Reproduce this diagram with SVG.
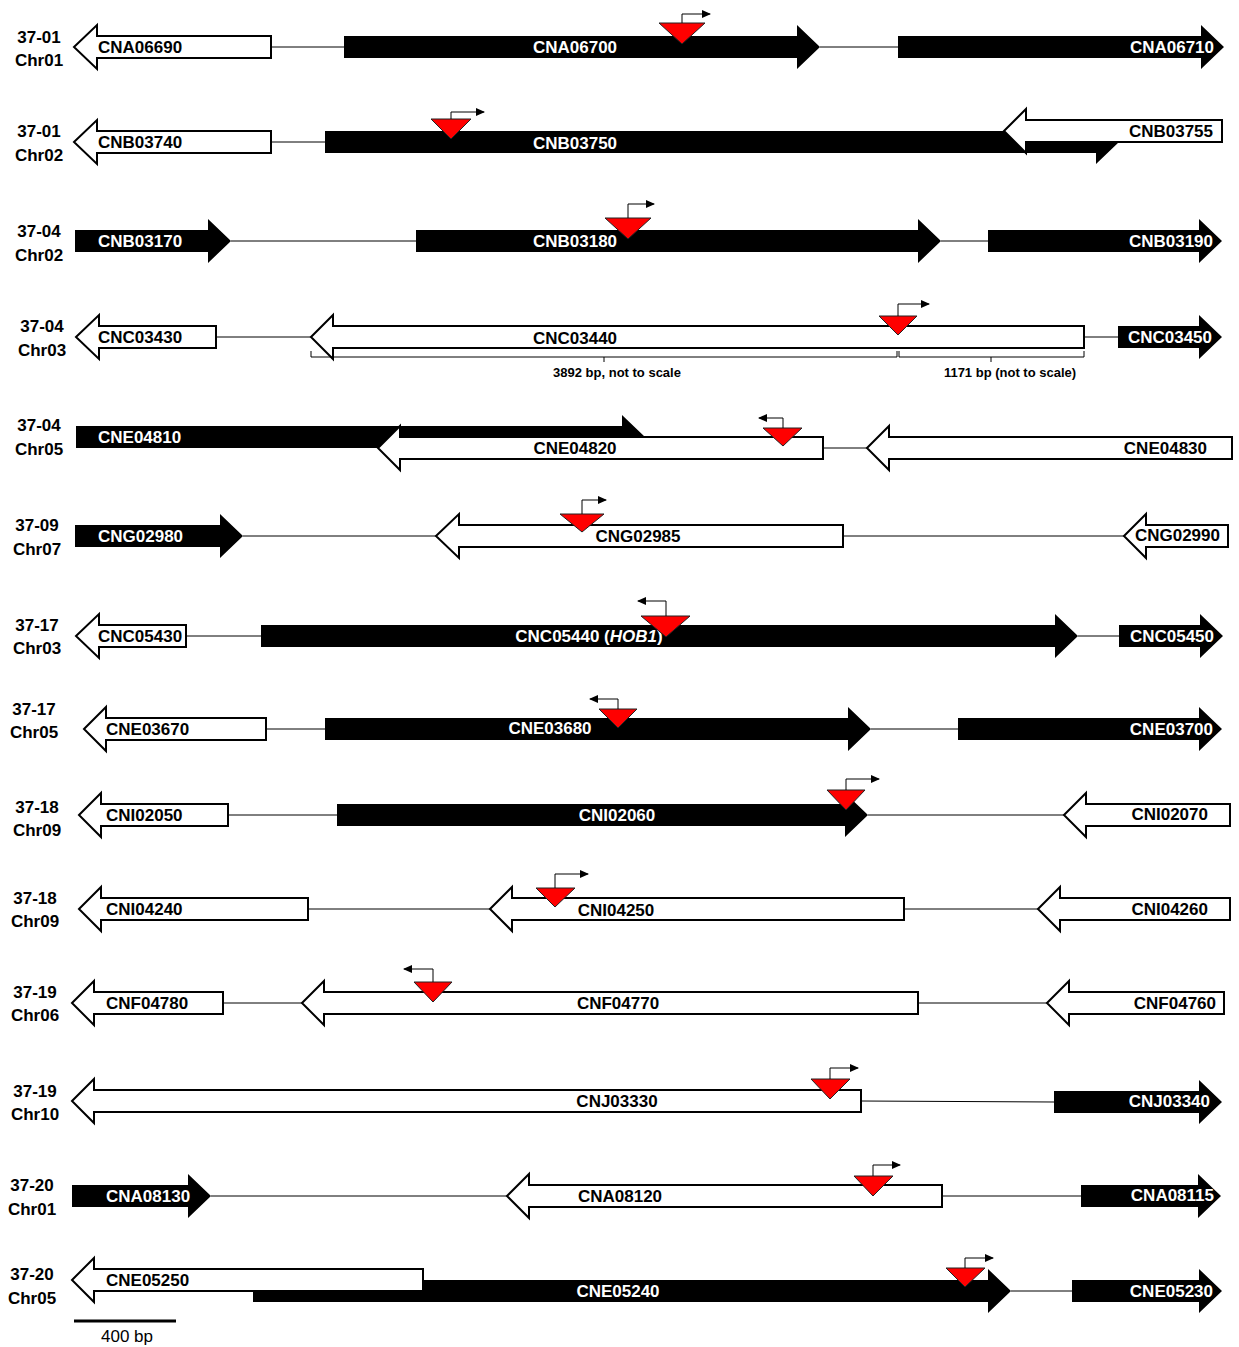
<svg xmlns="http://www.w3.org/2000/svg" width="1239" height="1347" viewBox="0 0 1239 1347">
<defs>
<style>
.w{fill:#fff;stroke:#000;stroke-width:2;stroke-linejoin:miter}
.b{fill:#000;stroke:none}
.t{fill:#ff0000;stroke:#222;stroke-width:1}
.p{fill:none;stroke:#000;stroke-width:1;marker-end:url(#ah)}
.ln{stroke:#000;stroke-width:1;fill:none}
.br{stroke:#000;stroke-width:1;fill:none}
text{font-family:"Liberation Sans",Arial,sans-serif;font-weight:bold}
.g{font-size:17px;fill:#000}
.gw{font-size:17px;fill:#fff}
.rl{font-size:17px;fill:#000;text-anchor:middle}
.m{text-anchor:middle}
.e{text-anchor:end}
.bl{font-size:13px;fill:#000;text-anchor:middle}
.sc{font-size:17px;font-weight:normal;fill:#000;text-anchor:middle}
</style>
<marker id="ah" markerWidth="9" markerHeight="8" refX="8" refY="4" orient="auto" markerUnits="userSpaceOnUse">
<path d="M0,0 L9,4 L0,8 Z" fill="#000"/>
</marker>
</defs>
<rect width="1239" height="1347" fill="#fff"/>

<g id="connectors">
<path class="ln" d="M271 47H344M820 47H898"/>
<path class="ln" d="M271 142H325"/>
<path class="ln" d="M231 241H416M941 241H988"/>
<path class="ln" d="M216 337H311M1084 337H1118"/>
<path class="ln" d="M823 448H867"/>
<path class="ln" d="M243 536H436M843 536H1124"/>
<path class="ln" d="M186 636H261M1078 636H1119"/>
<path class="ln" d="M266 729H325M871 729H958"/>
<path class="ln" d="M228 815H337M868 815H1064"/>
<path class="ln" d="M308 909H490M904 909H1038"/>
<path class="ln" d="M223 1003H302M918 1003H1047"/>
<path class="ln" d="M861 1101L1054 1102"/>
<path class="ln" d="M211 1196H507M942 1196H1081"/>
<path class="ln" d="M1011 1291H1072"/>
</g>

<g id="row-labels">
<text class="rl" x="39" y="43">37-01</text><text class="rl" x="39" y="66">Chr01</text>
<text class="rl" x="39" y="137">37-01</text><text class="rl" x="39" y="161">Chr02</text>
<text class="rl" x="39" y="237">37-04</text><text class="rl" x="39" y="261">Chr02</text>
<text class="rl" x="42" y="332">37-04</text><text class="rl" x="42" y="356">Chr03</text>
<text class="rl" x="39" y="431">37-04</text><text class="rl" x="39" y="455">Chr05</text>
<text class="rl" x="37" y="531">37-09</text><text class="rl" x="37" y="555">Chr07</text>
<text class="rl" x="37" y="631">37-17</text><text class="rl" x="37" y="654">Chr03</text>
<text class="rl" x="34" y="715">37-17</text><text class="rl" x="34" y="738">Chr05</text>
<text class="rl" x="37" y="813">37-18</text><text class="rl" x="37" y="836">Chr09</text>
<text class="rl" x="35" y="904">37-18</text><text class="rl" x="35" y="927">Chr09</text>
<text class="rl" x="35" y="998">37-19</text><text class="rl" x="35" y="1021">Chr06</text>
<text class="rl" x="35" y="1097">37-19</text><text class="rl" x="35" y="1120">Chr10</text>
<text class="rl" x="32" y="1191">37-20</text><text class="rl" x="32" y="1215">Chr01</text>
<text class="rl" x="32" y="1280">37-20</text><text class="rl" x="32" y="1304">Chr05</text>
</g>

<!-- Row 1 -->
<g id="CNA06690"><path class="w" d="M74 47L97 25V36H271V58H97V69Z"/><text class="g" x="98" y="53">CNA06690</text></g>
<g id="CNA06700"><path class="b" d="M344 36H797V25L820 47L797 69V58H344Z"/><text class="gw m" x="575" y="53">CNA06700</text></g>
<g id="CNA06710"><path class="b" d="M898 36H1201V25L1224 47L1201 69V58H898Z"/><text class="gw e" x="1214" y="53">CNA06710</text></g>
<g id="ins-1"><path class="t" d="M659 23L705 23L682 44Z"/><path class="p" d="M682 23V14H710"/></g>

<!-- Row 2 -->
<g id="CNB03740"><path class="w" d="M74 142L97 120V131H271V153H97V164Z"/><text class="g" x="98" y="148">CNB03740</text></g>
<g id="CNB03750"><path class="b" d="M325 131H1096V120L1119 142L1096 164V153H325Z"/><text class="gw m" x="575" y="149">CNB03750</text></g>
<g id="CNB03755"><path class="w" d="M1004 131L1026 109V120H1222V142H1026V153Z"/><text class="g e" x="1213" y="137">CNB03755</text></g>
<g id="ins-2"><path class="t" d="M431 119L471 119L451 139Z"/><path class="p" d="M451 119V112H484"/></g>

<!-- Row 3 -->
<g id="CNB03170"><path class="b" d="M75 230H208V219L231 241L208 263V252H75Z"/><text class="gw" x="98" y="247">CNB03170</text></g>
<g id="CNB03180"><path class="b" d="M416 230H918V219L941 241L918 263V252H416Z"/><text class="gw m" x="575" y="247">CNB03180</text></g>
<g id="CNB03190"><path class="b" d="M988 230H1199V219L1222 241L1199 263V252H988Z"/><text class="gw e" x="1213" y="247">CNB03190</text></g>
<g id="ins-3"><path class="t" d="M605 218L651 218L628 239Z"/><path class="p" d="M628 218V204H654"/></g>

<!-- Row 4 -->
<g id="CNC03430"><path class="w" d="M76 337L99 315V326H216V348H99V359Z"/><text class="g" x="98" y="343">CNC03430</text></g>
<g id="CNC03440"><path class="w" d="M311 337L333 315V326H1084V348H333V359Z"/><text class="g m" x="575" y="344">CNC03440</text></g>
<g id="CNC03450"><path class="b" d="M1118 326H1199V315L1222 337L1199 359V348H1118Z"/><text class="gw e" x="1212" y="343">CNC03450</text></g>
<g id="ins-4"><path class="t" d="M879 316L917 316L898 335Z"/><path class="p" d="M898 316V304H929"/></g>
<g id="brackets">
<path class="br" d="M311 351V357H897V351M604 357V362"/>
<path class="br" d="M899 351V357H1084V351M991 357V362"/>
<text class="bl" x="617" y="377">3892 bp, not to scale</text>
<text class="bl" x="1010" y="377">1171 bp (not to scale)</text>
</g>

<!-- Row 5 -->
<g id="CNE04810"><path class="b" d="M76 426H622V415L645 437L622 459V448H76Z"/><text class="gw" x="98" y="443">CNE04810</text></g>
<g id="CNE04820"><path class="w" d="M378 448L400 426V437H823V459H400V470Z"/><text class="g m" x="575" y="454">CNE04820</text></g>
<g id="CNE04830"><path class="w" d="M867 448L889 426V437H1232V459H889V470Z"/><text class="g e" x="1207" y="454">CNE04830</text></g>
<g id="ins-5"><path class="t" d="M763 428L802 428L783 446Z"/><path class="p" d="M783 428V418H759"/></g>

<!-- Row 6 -->
<g id="CNG02980"><path class="b" d="M75 525H220V514L243 536L220 558V547H75Z"/><text class="gw" x="98" y="542">CNG02980</text></g>
<g id="CNG02985"><path class="w" d="M436 536L459 514V525H843V547H459V558Z"/><text class="g m" x="638" y="542">CNG02985</text></g>
<g id="CNG02990"><path class="w" d="M1124 536L1146 514V525H1228V547H1146V558Z"/><text class="g e" x="1220" y="541">CNG02990</text></g>
<g id="ins-6"><path class="t" d="M560 514L604 514L582 532Z"/><path class="p" d="M582 514V500H606"/></g>

<!-- Row 7 -->
<g id="CNC05430"><path class="w" d="M76 636L99 614V625H186V647H99V658Z"/><text class="g" x="98" y="642">CNC05430</text></g>
<g id="CNC05440"><path class="b" d="M261 625H1055V614L1078 636L1055 658V647H261Z"/><text class="gw m" x="589" y="642">CNC05440 (<tspan font-style="italic">HOB1</tspan>)</text></g>
<g id="CNC05450"><path class="b" d="M1119 625H1200V614L1223 636L1200 658V647H1119Z"/><text class="gw e" x="1214" y="642">CNC05450</text></g>
<g id="ins-7"><path class="t" d="M641 616L690 616L666 637Z"/><path class="p" d="M666 616V601H638"/></g>

<!-- Row 8 -->
<g id="CNE03670"><path class="w" d="M84 729L106 707V718H266V740H106V751Z"/><text class="g" x="106" y="735">CNE03670</text></g>
<g id="CNE03680"><path class="b" d="M325 718H848V707L871 729L848 751V740H325Z"/><text class="gw m" x="550" y="734">CNE03680</text></g>
<g id="CNE03700"><path class="b" d="M958 718H1199V707L1222 729L1199 751V740H958Z"/><text class="gw e" x="1213" y="735">CNE03700</text></g>
<g id="ins-8"><path class="t" d="M599 709L637 709L618 728Z"/><path class="p" d="M618 709V699H590"/></g>

<!-- Row 9 -->
<g id="CNI02050"><path class="w" d="M79 815L101 793V804H228V826H101V837Z"/><text class="g" x="106" y="821">CNI02050</text></g>
<g id="CNI02060"><path class="b" d="M337 804H845V793L868 815L845 837V826H337Z"/><text class="gw m" x="617" y="821">CNI02060</text></g>
<g id="CNI02070"><path class="w" d="M1064 815L1086 793V804H1230V826H1086V837Z"/><text class="g e" x="1208" y="820">CNI02070</text></g>
<g id="ins-9"><path class="t" d="M827 790L865 790L846 810Z"/><path class="p" d="M846 790V779H879"/></g>

<!-- Row 10 -->
<g id="CNI04240"><path class="w" d="M79 909L101 887V898H308V920H101V931Z"/><text class="g" x="106" y="915">CNI04240</text></g>
<g id="CNI04250"><path class="w" d="M490 909L512 887V898H904V920H512V931Z"/><text class="g m" x="616" y="916">CNI04250</text></g>
<g id="CNI04260"><path class="w" d="M1038 909L1060 887V898H1230V920H1060V931Z"/><text class="g e" x="1208" y="915">CNI04260</text></g>
<g id="ins-10"><path class="t" d="M536 888L575 888L555 907Z"/><path class="p" d="M555 888V874H588"/></g>

<!-- Row 11 -->
<g id="CNF04780"><path class="w" d="M72 1003L94 981V992H223V1014H94V1025Z"/><text class="g" x="106" y="1009">CNF04780</text></g>
<g id="CNF04770"><path class="w" d="M302 1003L324 981V992H918V1014H324V1025Z"/><text class="g m" x="618" y="1009">CNF04770</text></g>
<g id="CNF04760"><path class="w" d="M1047 1003L1069 981V992H1224V1014H1069V1025Z"/><text class="g e" x="1216" y="1009">CNF04760</text></g>
<g id="ins-11"><path class="t" d="M414 982L452 982L433 1002Z"/><path class="p" d="M433 982V969H404"/></g>

<!-- Row 12 -->
<g id="CNJ03330"><path class="w" d="M72 1101L94 1079V1090H861V1112H94V1123Z"/><text class="g m" x="617" y="1107">CNJ03330</text></g>
<g id="CNJ03340"><path class="b" d="M1054 1091H1199V1080L1222 1102L1199 1124V1113H1054Z"/><text class="gw e" x="1210" y="1107">CNJ03340</text></g>
<g id="ins-12"><path class="t" d="M811 1079L850 1079L830 1099Z"/><path class="p" d="M830 1079V1068H858"/></g>

<!-- Row 13 -->
<g id="CNA08130"><path class="b" d="M72 1185H188V1174L211 1196L188 1218V1207H72Z"/><text class="gw" x="106" y="1202">CNA08130</text></g>
<g id="CNA08120"><path class="w" d="M507 1196L529 1174V1185H942V1207H529V1218Z"/><text class="g m" x="620" y="1202">CNA08120</text></g>
<g id="CNA08115"><path class="b" d="M1081 1185H1198V1174L1221 1196L1198 1218V1207H1081Z"/><text class="gw e" x="1214" y="1201">CNA08115</text></g>
<g id="ins-13"><path class="t" d="M854 1176L893 1176L873 1196Z"/><path class="p" d="M873 1176V1165H900"/></g>

<!-- Row 14 -->
<g id="CNE05240"><path class="b" d="M253 1280H988V1269L1011 1291L988 1313V1302H253Z"/><text class="gw m" x="618" y="1297">CNE05240</text></g>
<g id="CNE05250"><path class="w" d="M72 1280L94 1258V1269H423V1291H94V1302Z"/><text class="g" x="106" y="1286">CNE05250</text></g>
<g id="CNE05230"><path class="b" d="M1072 1280H1199V1269L1222 1291L1199 1313V1302H1072Z"/><text class="gw e" x="1213" y="1297">CNE05230</text></g>
<g id="ins-14"><path class="t" d="M946 1268L985 1268L965 1287Z"/><path class="p" d="M965 1268V1258H993"/></g>

<g id="scale-bar">
<path d="M74 1321H176" stroke="#000" stroke-width="3"/>
<text class="sc" x="127" y="1342">400 bp</text>
</g>
</svg>
